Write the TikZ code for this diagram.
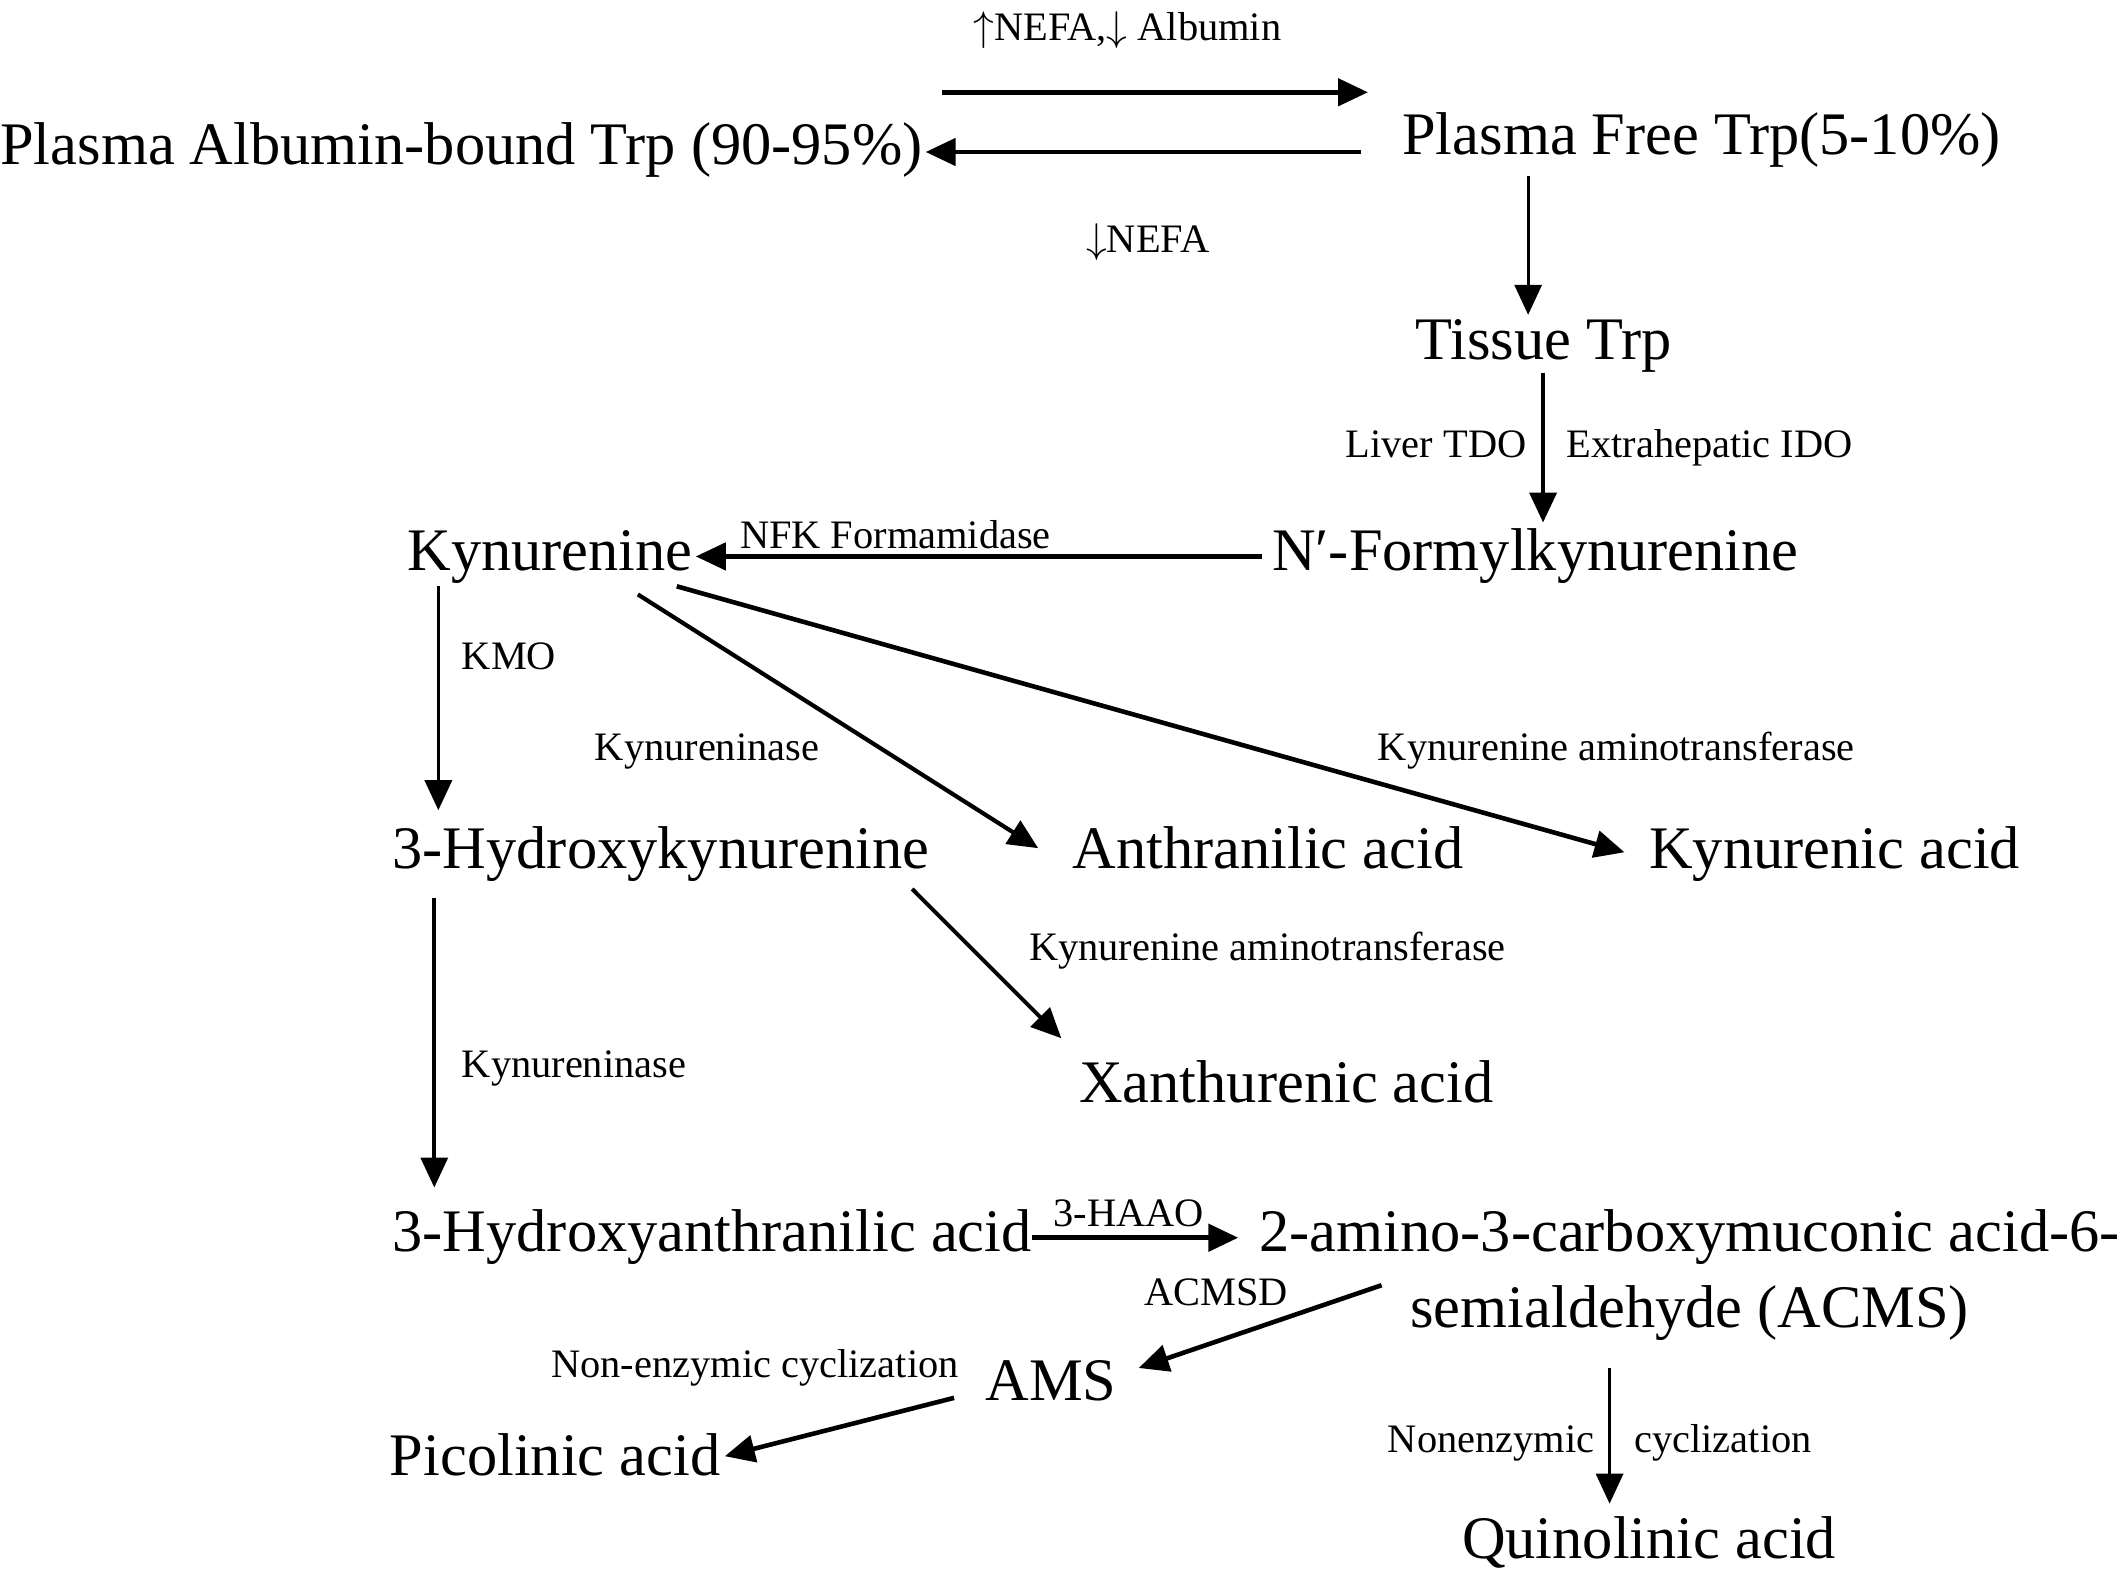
\documentclass[tikz,border=0pt]{standalone}
\usepackage{fontspec}
\setmainfont{Liberation Serif}
\usetikzlibrary{arrows.meta,calc}
\begin{document}
\begin{tikzpicture}[x=0.6786pt,y=-0.6786pt,
  big/.style={inner sep=0pt,font=\fontsize{30.2pt}{38pt}\selectfont},
  small/.style={inner sep=0pt,font=\fontsize{20.2pt}{24pt}\selectfont},
  arr/.style={-{Triangle[length=15pt,width=13.5pt]},line width=#1},
  arr/.default=2.3pt]
\useasboundingbox (0,0) rectangle (1568,1160);
% main compounds
\node[big,anchor=base west] (bound) at (0,121) {Plasma Albumin-bound Trp (90-95\%)};
\node[big,anchor=base west] (free) at (1033,114) {Plasma Free Trp(5-10\%)};
\node[big,anchor=base west] (tissue) at (1043,265) {Tissue Trp};
\node[big,anchor=base west] (nfk) at (937,420) {N′-Formylkynurenine};
\node[big,anchor=base west] (kyn) at (300,420) {Kynurenine};
\node[big,anchor=base west] (hk) at (289,640) {3-Hydroxykynurenine};
\node[big,anchor=base west] (anth) at (790,640) {Anthranilic acid};
\node[big,anchor=base west] (kyna) at (1215,640) {Kynurenic acid};
\node[big,anchor=base west] (xan) at (795,812) {Xanthurenic acid};
\node[big,anchor=base west] (haa) at (289,922) {3-Hydroxyanthranilic acid};
\node[big,anchor=base,align=center] (acms) at (1245,978) {2-amino-3-carboxymuconic acid-6-\\semialdehyde (ACMS)};
\node[big,anchor=base west] (ams) at (726,1032) {AMS};
\node[big,anchor=base west] (pic) at (287,1087) {Picolinic acid};
\node[big,anchor=base west] (quin) at (1077,1148) {Quinolinic acid};
% enzyme labels
\node[small,anchor=base west] (lup) at (717,30) {$\uparrow$NEFA,$\downarrow$ Albumin};
\node[small,anchor=base west] (ldown) at (800,186) {$\downarrow$NEFA};
\node[small,anchor=base east] (ltdo) at (1125,337) {Liver TDO};
\node[small,anchor=base west] (lido) at (1154,337) {Extrahepatic IDO};
\node[small,anchor=base west] (lnfk) at (545,404) {NFK Formamidase};
\node[small,anchor=base west] (lkmo) at (340,493) {KMO};
\node[small,anchor=base west] (lkase1) at (438,560) {Kynureninase};
\node[small,anchor=base west] (lkat1) at (1015,560) {Kynurenine aminotransferase};
\node[small,anchor=base west] (lkat2) at (758,708) {Kynurenine aminotransferase};
\node[small,anchor=base west] (lkase2) at (340,794) {Kynureninase};
\node[small,anchor=base west] (lhaao) at (776,904) {3-HAAO};
\node[small,anchor=base west] (lacmsd) at (843,962) {ACMSD};
\node[small,anchor=base west] (lnonenz) at (406,1015) {Non-enzymic cyclization};
\node[small,anchor=base east] (lnon) at (1175,1070) {Nonenzymic};
\node[small,anchor=base west] (lcyc) at (1204,1070) {cyclization};
% connectors
\draw[arr=2.4pt] ($(bound.base east)+(14,-53)$) -- ($(free.base west)+(-25,-46)$);
\draw[arr=2.4pt] ($(free.base west)+(-30,-2)$) -- ($(bound.base east)+(2,-9)$);
\draw[arr=1.6pt] ($(free.base west)+(93,16)$) -- ($(tissue.base west)+(83,-33)$);
\draw[arr=2.0pt] ($(tissue.base west)+(94,10)$) -- ($(nfk.base west)+(200,-35)$);
\draw[arr=2.3pt] ($(nfk.base west)+(-7,-10)$) -- ($(kyn.base east)+(2,-10)$);
\draw[arr=1.8pt] ($(kyn.base west)+(23,12)$) -- ($(hk.base west)+(34,-43)$);
\draw[arr=2.1pt] ($(kyn.base west)+(170,18)$) -- ($(anth.base west)+(-25,-15)$);
\draw[arr=2.3pt] ($(kyn.base east)+(-12,12)$) -- ($(kyna.base west)+(-18,-12)$);
\draw[arr=2.0pt] ($(hk.base east)+(-13,15)$) -- ($(xan.base west)+(-13,-47)$);
\draw[arr=1.8pt] ($(hk.base west)+(31,22)$) -- ($(haa.base west)+(31,-47)$);
\draw[arr=2.6pt] ($(haa.base east)+(0,-10)$) -- ($(haa.base east)+(152,-10)$);
\draw[arr=2.3pt] ($(acms.base)+(-227,-31)$) -- ($(ams.base east)+(16,-24)$);
\draw[arr=2.3pt] ($(ams.base west)+(-23,-2)$) -- ($(pic.base east)+(3,-14)$);
\draw[arr=1.6pt] ($(acms.base)+(-59,30)$) -- ($(quin.base west)+(109,-40)$);
\end{tikzpicture}
\end{document}
